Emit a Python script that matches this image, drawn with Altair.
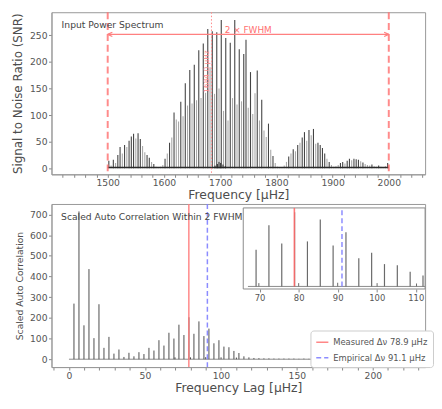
import altair as alt
import pandas as pd

FONT = "DejaVu Sans"
TXT = "#555555"

# ---------------- Top panel: input power spectrum ----------------
spec_start = 1502.0
spec_step = 4.0
spec_snr = [
    14, 5, 16, 10, 25, 40, 28, 44, 40, 52, 60, 65, 56, 66, 55, 42, 30, 25, 20, 12,
    8, 3, 2, 3, 6,
    18, 28, 48, 58, 105, 92, 88, 125, 98, 160, 118, 185, 122, 195, 128, 222, 132, 235, 142, 262,
    190, 258, 140, 256, 150,
    279, 108, 245, 90, 236, 132, 279, 120, 224, 126, 215, 242, 114, 181, 102, 141, 184, 90, 129, 71,
    59, 84, 35, 23, 10,
    3, 2, 2, 5, 12, 22, 28, 36, 32, 44, 48, 58, 68, 52, 72, 62, 74, 46, 48, 44,
    38, 28, 18, 12, 6,
    3, 4, 6, 10, 12, 9, 14, 18, 15, 18, 17, 16, 13, 11, 8, 6, 5, 7, 4, 3,
    5, 3, 2, 4, 10,
]
cluster_freq = [1691, 1695, 1698, 1701, 1705, 1709]
cluster_snr = [5, 8, 12, 10, 7, 4]
floor_range = [1500, 2000]
floor_level = 3
band_edges = [1500, 2000]
numax = 1684.6
numax_label = "1684.0 μHz"
arrow_y = 252
fwhm_label = "2 × FWHM"

# ---------------- Bottom panel: autocorrelation ----------------
acf_step = 3.29
acf_vals = [
    269, 715, 164, 436, 102, 266, 55, 108, 27, 47, 11, 31, 14, 34, 25, 55, 42, 92, 66, 128,
    100, 167, 117, 203, 123, 183, 112, 148, 77, 92, 61, 58, 40, 30, 14, 9, 6, 5, 4, 4,
    3, 3, 3, 3, 3, 2, 3, 2, 2, 3, 2, 2, 2, 3, 2, 2, 2, 2, 2, 2,
    2, 2, 2, 2, 2, 2, 2, 2, 2, 2, 2, 2, 2,
]
sub_lags = [69.8, 80.0, 90.0, 100.1, 110.2]
sub_vals = [9, 9, 10, 9, 8]
acf_baseline = [0, 245]
inset_base = [67.0, 112.4]
dnu_labels = ["Measured Δν 78.9 μHz", "Empirical Δν 91.1 μHz"]
dnu_values = [78.9, 91.1]

# ---------------- tables ----------------
n = len(spec_snr)
freqs = [spec_start + spec_step * i for i in range(n)]
shade = []
for i in range(n):
    nb = [spec_snr[j] for j in (i - 1, i + 1) if 0 <= j < n]
    shade.append("dark" if spec_snr[i] >= sum(nb) / len(nb) else "light")
spec = pd.DataFrame({"freq": freqs, "snr": spec_snr, "zero": 0, "shade": shade})
spec_dark = spec[spec.shade == "dark"]
spec_light = spec[spec.shade == "light"]
cluster = pd.DataFrame({"freq": cluster_freq, "snr": cluster_snr, "zero": 0})
floor = pd.DataFrame({"freq": [floor_range[0]], "freq2": [floor_range[1]], "snr": [0], "snr2": [floor_level]})
bands = pd.DataFrame({"freq": band_edges})
numax_df = pd.DataFrame({"freq": [numax]})
arrow = pd.DataFrame({"freq": [band_edges[0]], "freq2": [band_edges[1]], "snr": [arrow_y]})
head_l = pd.DataFrame({"freq": [band_edges[0]], "snr": [arrow_y]})
head_r = pd.DataFrame({"freq": [band_edges[1]], "snr": [arrow_y]})
t_fwhm = pd.DataFrame({"freq": [1750], "snr": [261], "t": [fwhm_label]})
t_numax = pd.DataFrame({"freq": [1676], "snr": [182], "t": [numax_label]})
t_title1 = pd.DataFrame({"freq": [1418], "snr": [269.5], "t": ["Input Power Spectrum"]})

acf = pd.DataFrame({"lag": [acf_step * (k + 1) for k in range(len(acf_vals))], "acf": acf_vals, "zero": 0})
sub = pd.DataFrame({"lag": sub_lags, "acf": sub_vals, "zero": 0})
base = pd.DataFrame({"lag": [acf_baseline[0]], "lag2": [acf_baseline[1]], "acf": [0]})
dnu = pd.DataFrame({"lag": dnu_values, "label": dnu_labels})
t_title2 = pd.DataFrame({"lag": [-5.2], "acf": [690], "t": ["Scaled Auto Correlation Within 2 FWHM"]})

W, H1, H2 = 378, 164, 165
IN_X = [65.8, 112.4]
IN_Y = [-7, 214.5]
IN_B = 86
iacf = acf[(acf.lag > IN_X[0]) & (acf.lag < IN_X[1])].rename(columns={"lag": "ilag", "acf": "iacf"})
isub = sub.rename(columns={"lag": "ilag", "acf": "iacf"})
iframe = pd.DataFrame({"ilag": [IN_X[0]], "ilag2": [IN_X[1]], "iacf": [IN_Y[0]], "iacf2": [IN_Y[1]]})
ibase = pd.DataFrame({"ilag": [inset_base[0]], "ilag2": [inset_base[1]], "iacf": [0]})
ired = pd.DataFrame({"ilag": [dnu_values[0]], "iacf": [0], "iacf2": [IN_Y[1]]})
iblue = pd.DataFrame({"ilag": [dnu_values[1]], "iacf": [0], "iacf2": [IN_Y[1]]})

# ---------------- top chart ----------------
xs1 = alt.Scale(domain=[1400, 2064.6], nice=False, zero=False)
ys1 = alt.Scale(domain=[-11.4, 293.6], nice=False, zero=False)
ax1x = alt.Axis(title="Frequency [μHz]", values=list(range(1420, 2061, 20)),
                labelExpr="datum.value % 100 === 0 ? datum.label : ''", format="d",
                labelOverlap=False, grid=False, titlePadding=1)
ax1y = alt.Axis(title="Signal to Noise Ratio (SNR)", values=list(range(0, 251, 50)), format="d",
                grid=False, titleFontSize=12, titlePadding=5)


def X1(f="freq"):
    return alt.X(f"{f}:Q", scale=xs1, axis=ax1x)


def Y1(f="snr"):
    return alt.Y(f"{f}:Q", scale=ys1, axis=ax1y)


top = alt.layer(
    alt.Chart(spec_light).mark_rule(color="#a9a9a9", strokeWidth=1.1).encode(x=X1(), y=Y1(), y2="zero:Q"),
    alt.Chart(spec_dark).mark_rule(color="#454545", strokeWidth=1.1).encode(x=X1(), y=Y1(), y2="zero:Q"),
    alt.Chart(floor).mark_rect(color="#2b2b2b").encode(x=X1(), x2="freq2:Q", y=Y1(), y2="snr2:Q"),
    alt.Chart(cluster).mark_rule(color="#222222", strokeWidth=1).encode(x=X1(), y=Y1(), y2="zero:Q"),
    alt.Chart(bands).mark_rule(color="#ff6e6e", strokeDash=[7, 4], strokeWidth=2, opacity=0.8).encode(x=X1()),
    alt.Chart(numax_df).mark_rule(color="#ff8a8a", strokeDash=[1.5, 2], strokeWidth=1).encode(x=X1()),
    alt.Chart(arrow).mark_rule(color="#ff8080", strokeWidth=1.2).encode(x=X1(), x2="freq2:Q", y=Y1()),
    alt.Chart(head_l).mark_point(shape="M0,0L2,-0.9M0,0L2,0.9", filled=False, color="#ff8080",
                                 strokeWidth=1.2, size=22, opacity=1).encode(x=X1(), y=Y1()),
    alt.Chart(head_r).mark_point(shape="M0,0L-2,-0.9M0,0L-2,0.9", filled=False, color="#ff8080",
                                 strokeWidth=1.2, size=22, opacity=1).encode(x=X1(), y=Y1()),
    alt.Chart(t_fwhm).mark_text(color="#ff7070", fontSize=9, font=FONT, align="center", baseline="middle")
        .encode(x=X1(), y=Y1(), text="t:N"),
    alt.Chart(t_numax).mark_text(color="#ff8a8a", fontSize=7.5, font=FONT, angle=270, align="center",
                                 baseline="middle").encode(x=X1(), y=Y1(), text="t:N"),
    alt.Chart(t_title1).mark_text(color="#444444", fontSize=9.3, font=FONT, align="left", baseline="middle")
        .encode(x=X1(), y=Y1(), text="t:N"),
).properties(width=W, height=H1)

# ---------------- bottom chart ----------------
xs2 = alt.Scale(domain=[-11.5, 234.4], nice=False, zero=False)
ys2 = alt.Scale(domain=[-38, 751], nice=False, zero=False)
ax2x = alt.Axis(title="Frequency Lag [μHz]", values=list(range(-10, 231, 10)),
                labelExpr="datum.value % 50 === 0 ? datum.label : ''", format="d",
                labelOverlap=False, grid=False, titlePadding=1)
ax2y = alt.Axis(title="Scaled Auto Correlation", values=list(range(0, 701, 100)), format="d",
                grid=False, titleFontSize=9.3, titlePadding=5)


def X2(f="lag"):
    return alt.X(f"{f}:Q", scale=xs2, axis=ax2x)


def Y2(f="acf"):
    return alt.Y(f"{f}:Q", scale=ys2, axis=ax2y)


leg = alt.Legend(title=None, orient="none", legendX=262, legendY=H2 - 37)
main = alt.layer(
    alt.Chart(base).mark_rule(color="#8a8a8a", strokeWidth=1, clip=True).encode(x=X2(), x2="lag2:Q", y=Y2()),
    alt.Chart(acf).mark_rule(color="#4d4d4d", strokeWidth=1, clip=True).encode(x=X2(), y=Y2(), y2="zero:Q"),
    alt.Chart(sub).mark_rule(color="#4d4d4d", strokeWidth=1).encode(x=X2(), y=Y2(), y2="zero:Q"),
    alt.Chart(dnu).mark_rule(strokeWidth=1.5, opacity=0.9).encode(
        x=X2(),
        color=alt.Color("label:N", scale=alt.Scale(domain=dnu_labels, range=["#ff7b7b", "#8080ff"]), legend=leg),
        strokeDash=alt.StrokeDash("label:N", scale=alt.Scale(domain=dnu_labels, range=[[1, 0], [5, 3]]),
                                  legend=leg),
    ),
    alt.Chart(t_title2).mark_text(color="#444444", fontSize=9.3, font=FONT, align="left", baseline="middle")
        .encode(x=X2(), y=Y2(), text="t:N"),
)

xs3 = alt.Scale(domain=IN_X, range=[194, W], nice=False, zero=False)
ys3 = alt.Scale(domain=IN_Y, range=[IN_B, 4], nice=False, zero=False)
ax3x = alt.Axis(orient="bottom", offset=-(H2 - IN_B), values=[70, 80, 90, 100, 110], title=None, grid=False,
                domain=False, tickSize=3, labelFontSize=8.5, format="d")


def X3(f="ilag"):
    return alt.X(f"{f}:Q", scale=xs3, axis=ax3x)


def Y3(f="iacf"):
    return alt.Y(f"{f}:Q", scale=ys3, axis=None)


inset = alt.layer(
    alt.Chart(iframe).mark_rect(fill="white", stroke="#8a8a8a", strokeWidth=1).encode(
        x=X3(), x2="ilag2:Q", y=Y3(), y2="iacf2:Q"),
    alt.Chart(ibase).mark_rule(color="#8a8a8a", strokeWidth=1).encode(x=X3(), x2="ilag2:Q", y=Y3()),
    alt.Chart(iacf).mark_rule(color="#6a6a6a", strokeWidth=1.2).encode(x=X3(), y=Y3(), y2="zero:Q"),
    alt.Chart(isub).mark_rule(color="#6a6a6a", strokeWidth=1).encode(x=X3(), y=Y3(), y2="zero:Q"),
    alt.Chart(ired).mark_rule(color="#ff6b6b", strokeWidth=1.6, opacity=0.9).encode(x=X3(), y=Y3(), y2="iacf2:Q"),
    alt.Chart(iblue).mark_rule(color="#8080ff", strokeWidth=1.5, strokeDash=[5, 3], opacity=0.9).encode(
        x=X3(), y=Y3(), y2="iacf2:Q"),
)

bottom = alt.layer(main, inset).resolve_scale(x="independent", y="independent").properties(width=W, height=H2)

chart = alt.vconcat(top, bottom, spacing=0).resolve_legend(
    color="independent", strokeDash="independent"
).properties(
    padding={"left": 3, "top": 0, "right": 0, "bottom": 0}
).configure_view(stroke="#999999").configure_axis(
    labelFont=FONT, labelFontSize=9.3, labelColor=TXT, titleFont=FONT, titleFontSize=12.5,
    titleColor="#4d4d4d", titleFontWeight="normal", tickColor="#888888", domainColor="#999999",
    tickSize=3, labelPadding=1.5,
).configure_legend(
    strokeColor="#cccccc", fillColor="white", padding=5, cornerRadius=3, labelFont=FONT,
    labelFontSize=8.5, labelColor=TXT, symbolStrokeWidth=1.5, symbolSize=150, rowPadding=3.5,
    symbolType="stroke", labelLimit=200,
)

chart.save("out.html", embed_options={"renderer": "svg", "actions": False})
